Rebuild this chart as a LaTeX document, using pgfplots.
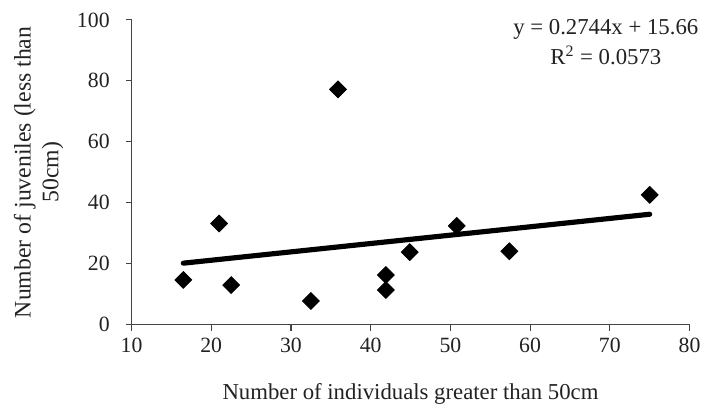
\documentclass[border=0pt]{standalone}
\usepackage{fontspec}
\setmainfont{Liberation Serif}
\usepackage{pgfplots}
\pgfplotsset{compat=1.18}
\definecolor{ink}{HTML}{222222}
\definecolor{axisgray}{HTML}{444444}

\begin{document}
\begin{tikzpicture}
\begin{axis}[
  scale only axis,
  width=281bp,
  height=153.5bp,
  xmin=10,xmax=80,
  ymin=0,ymax=100,
  xtick={10,20,...,80},
  ytick={0,20,...,100},
  axis x line=bottom,
  axis y line=left,
  axis line style={draw=axisgray,line width=0.6pt,-},
  tick style={draw=axisgray,line width=0.6pt},
  tick align=outside,
  major tick length=3bp,
  tick label style={font=\fontsize{11}{13}\selectfont,text=ink},
  /pgf/number format/assume math mode=true,
  yticklabel style={xshift=-4.5bp},
  xlabel={Number of individuals greater than 50cm},
  ylabel={Number of juveniles (less than\\50cm)},
  label style={font=\fontsize{11.5}{14}\selectfont,text=ink},
  ylabel style={align=center,font=\fontsize{12}{14}\selectfont},
  xlabel style={yshift=-9bp},
  clip=false,
]
\addplot[only marks,mark=square*,mark size=3bp,mark options={rotate=45,fill=black,draw=black}] coordinates {
  (16.5,14.7) (21.0,33.2) (22.5,13.0) (32.5,7.8) (35.9,77.2)
  (41.9,16.3) (41.9,11.4) (44.9,23.8) (50.8,32.4) (57.4,24.1) (75.0,42.6)
};
\addplot[black,line width=2.6bp,line cap=round] coordinates {
  (16.5,20.19) (75.0,36.24)
};
\node[align=center,font=\fontsize{11.5}{15.5}\selectfont,text=ink] at (axis cs:69.5,92.7)
  {y = 0.2744x + 15.66\\R\textsuperscript{2} = 0.0573};
\end{axis}
\path ([yshift=-1.2bp]current bounding box.south);
\path ([yshift=3bp]current bounding box.north);
\path ([xshift=-3.7bp]current bounding box.west);
\end{tikzpicture}
\end{document}
